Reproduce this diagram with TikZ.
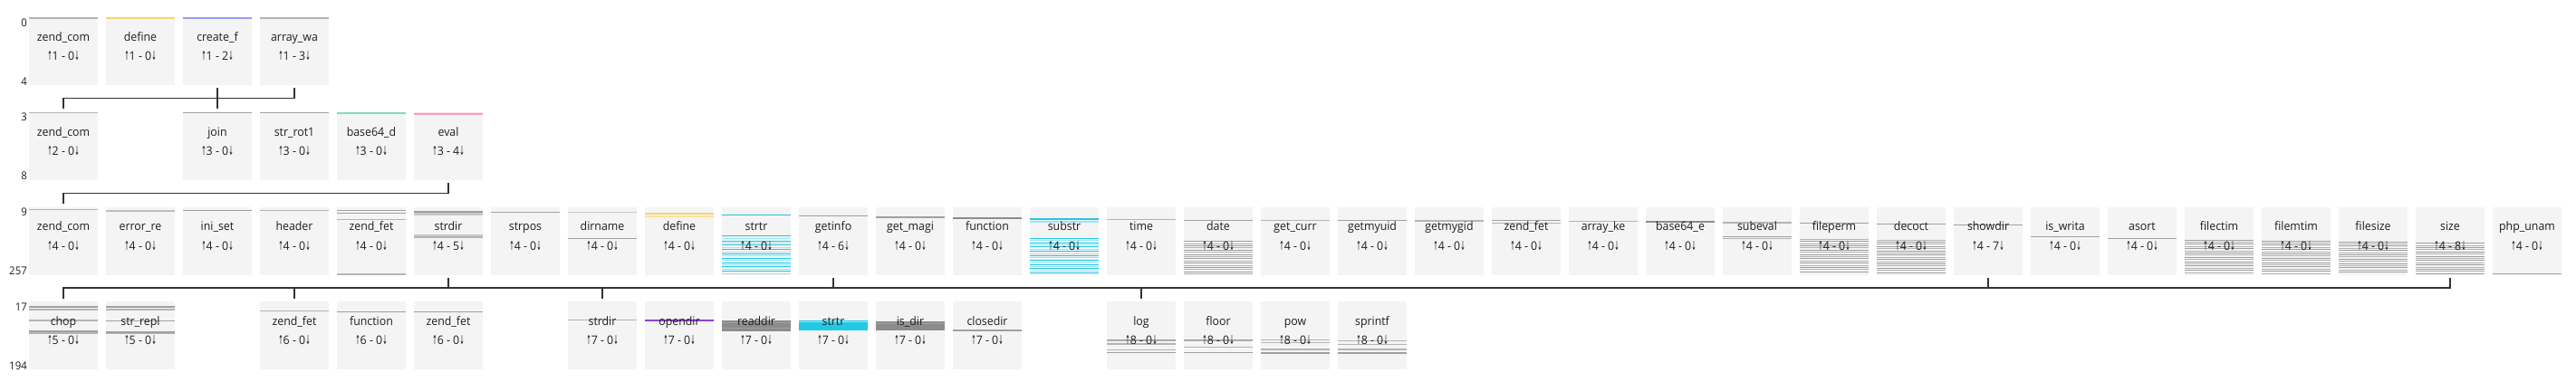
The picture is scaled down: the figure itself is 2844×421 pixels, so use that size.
\documentclass[tikz,border=0pt]{standalone}
\usepackage{fontspec}
\setmainfont{Open Sans}[FakeStretch=0.95]
\newfontfamily\arrowfont{DejaVu Sans}
\usepackage{graphicx}
\usepackage{tikz}

\definecolor{boxfill}{HTML}{F4F4F4}
\definecolor{txt}{HTML}{1E1E1E}
\definecolor{linkc}{HTML}{333333}
\definecolor{graya}{HTML}{B4B4B4}
\definecolor{grayb}{HTML}{C8C8C8}
\definecolor{grayc}{HTML}{A0A0A0}
\definecolor{grayd}{HTML}{8C8C8C}
\definecolor{yellowa}{HTML}{F7D56E}
\definecolor{yellowb}{HTML}{FBE39A}
\definecolor{purplea}{HTML}{9B9BEA}
\definecolor{purpled}{HTML}{8A46C8}
\definecolor{teala}{HTML}{7DDCC2}
\definecolor{pinka}{HTML}{F6A3BA}
\definecolor{pinkl}{HTML}{FBDCE5}
\definecolor{cyana}{HTML}{20C9E4}
\definecolor{cyanl}{HTML}{9DE6F3}

\newcommand{\ua}{{\arrowfont\scalebox{.5}[1.05]{↑}}}
\newcommand{\da}{{\arrowfont\scalebox{.5}[1.05]{↓}}}
\newcommand{\cnt}[2]{\ua#1 - #2\da}

\tikzset{
	fnbox/.style={rectangle, fill=boxfill, inner sep=0pt, outer sep=0pt,
		minimum width=76pt, minimum height=75pt, anchor=north west},
	fnname/.style={anchor=base, inner sep=0pt, font=\fontsize{13}{15}\selectfont, text=txt},
	fncount/.style={anchor=base, inner sep=0pt, font=\fontsize{13}{15}\selectfont, text=txt},
	rowlbl/.style={anchor=base east, inner sep=0pt, font=\fontsize{12}{14}\selectfont, text=txt},
	link/.style={draw=linkc, line width=1.5pt},
}

% box: name, column, row, label, counts, stripes
\newcommand{\func}[6]{%
	\node[fnbox] (#1) at ({32+85*#2},{19+104.8*#3}) {};
	\def\cur{#1}%
	#6%
	\node[fnname] (#1n) at ([yshift=-26.2pt]#1.north) {#4};
	\node[fncount] (#1c) at ([yshift=-47.5pt]#1.north) {#5};
}
\newcommand{\stripes}[1]{%
	\foreach \yo/\scol/\swid in {#1}
	\draw[\scol, line width=\swid pt] ([yshift=-\yo pt]\cur.north west) -- ([yshift=-\yo pt]\cur.north east);}
\newcommand{\hatch}[3]{%
	\foreach \k in {0,...,20}{%
		\pgfmathsetmacro\yo{#1+2.4*\k}%
		\ifdim\yo pt<74pt
		\ifodd\k\relax \def\hc{#3}\else \def\hc{#2}\fi
		\draw[\hc, line width=1pt] ([yshift=-\yo pt]\cur.north west) -- ([yshift=-\yo pt]\cur.north east);
		\fi}}

\begin{document}
\begin{tikzpicture}[x=1pt, y=-1pt]
	
	\useasboundingbox (0,0) rectangle (2844,421);
	
	% row labels
	\node[rowlbl] (la) at (30,29) {0};
	\node[rowlbl] (lb) at (30,94) {4};
	\node[rowlbl] (lc) at (30,133.8) {3};
	\node[rowlbl] (ld) at (30,198.8) {8};
	\node[rowlbl] (le) at (30,238.6) {9};
	\node[rowlbl] (lf) at (30,303.6) {257};
	\node[rowlbl] (lg) at (30,343.4) {17};
	\node[rowlbl] (lh) at (30,408.4) {194};
	
	% row 0
	\func{r0c0}{0}{0}{zend\_com}{\cnt{1}{0}}{\stripes{0.75/graya/1.5}}
	\func{r0c1}{1}{0}{define}{\cnt{1}{0}}{\stripes{0.75/yellowa/1.5}}
	\func{r0c2}{2}{0}{create\_f}{\cnt{1}{2}}{\stripes{0.75/purplea/1.5}}
	\func{r0c3}{3}{0}{array\_wa}{\cnt{1}{3}}{\stripes{1/graya/2}}
	
	% row 1
	\func{r1c0}{0}{1}{zend\_com}{\cnt{2}{0}}{\stripes{0.75/graya/1.5}}
	\func{r1c2}{2}{1}{join}{\cnt{3}{0}}{\stripes{0.75/grayc/1.5}}
	\func{r1c3}{3}{1}{str\_rot1}{\cnt{3}{0}}{\stripes{0.75/grayc/1.5}}
	\func{r1c4}{4}{1}{base64\_d}{\cnt{3}{0}}{\stripes{1.25/teala/2.5}}
	\func{r1c5}{5}{1}{eval}{\cnt{3}{4}}{\stripes{0.5/pinkl/1, 2/pinka/2}}
	
	% row 2
	\func{r2c0}{0}{2}{zend\_com}{\cnt{4}{0}}{\stripes{3/graya/1.5}}
	\func{r2c1}{1}{2}{error\_re}{\cnt{4}{0}}{\stripes{3.5/grayb/1, 4.5/graya/1.2}}
	\func{r2c2}{2}{2}{ini\_set}{\cnt{4}{0}}{\stripes{4/grayc/1.5}}
	\func{r2c3}{3}{2}{header}{\cnt{4}{0}}{\stripes{4/graya/1.5}}
	\func{r2c4}{4}{2}{zend\_fet}{\cnt{4}{0}}{\stripes{4/grayc/1.2, 7/grayc/1.5, 13.5/graya/1.2, 74.2/graya/1.5}}
	\func{r2c5}{5}{2}{strdir}{\cnt{4}{5}}{\stripes{5/grayc/1.8, 8/grayb/2.5, 31.5/grayb/1.5, 33.5/graya/1.5}}
	\func{r2c6}{6}{2}{strpos}{\cnt{4}{0}}{\stripes{6/grayc/1.2}}
	\func{r2c7}{7}{2}{dirname}{\cnt{4}{0}}{\stripes{5.5/grayb/1.2, 35/grayc/1.5}}
	\func{r2c8}{8}{2}{define}{\cnt{4}{0}}{\stripes{7/yellowa/1.8, 10.5/yellowb/1.8}}
	\func{r2c9}{9}{2}{strtr}{\cnt{4}{0}}{\stripes{8.7/cyana/1.5, 32/cyana/1.5}\hatch{35}{cyanl}{cyana}}
	\func{r2c10}{10}{2}{getinfo}{\cnt{4}{6}}{\stripes{9.7/grayc/1.5}}
	\func{r2c11}{11}{2}{get\_magi}{\cnt{4}{0}}{\stripes{11.4/grayc/1.5}}
	\func{r2c12}{12}{2}{function}{\cnt{4}{0}}{\stripes{12/grayd/2}}
	\func{r2c13}{13}{2}{substr}{\cnt{4}{0}}{\stripes{13.6/cyana/2, 16.4/cyanl/1.5}\hatch{34.7}{cyana}{cyanl}}
	\func{r2c14}{14}{2}{time}{\cnt{4}{0}}{\stripes{13.7/graya/1.5}}
	\func{r2c15}{15}{2}{date}{\cnt{4}{0}}{\stripes{14.7/grayc/1.2}\hatch{38}{grayc}{graya}}
	\func{r2c16}{16}{2}{get\_curr}{\cnt{4}{0}}{\stripes{15/graya/1.5}}
	\func{r2c17}{17}{2}{getmyuid}{\cnt{4}{0}}{\stripes{15/grayc/1.2}}
	\func{r2c18}{18}{2}{getmygid}{\cnt{4}{0}}{\stripes{15.5/graya/2}}
	\func{r2c19}{19}{2}{zend\_fet}{\cnt{4}{0}}{\stripes{15/grayc/1.2, 18/graya/1.5}}
	\func{r2c20}{20}{2}{array\_ke}{\cnt{4}{0}}{\stripes{15.7/graya/1.5}}
	\func{r2c21}{21}{2}{base64\_e}{\cnt{4}{0}}{\stripes{16.5/grayd/2.5}}
	\func{r2c22}{22}{2}{subeval}{\cnt{4}{0}}{\stripes{17.4/graya/1.5, 33/grayc/1.5, 35/graya/1.5}}
	\func{r2c23}{23}{2}{fileperm}{\cnt{4}{0}}{\stripes{18/grayc/1.2}\hatch{35.7}{graya}{grayc}}
	\func{r2c24}{24}{2}{decoct}{\cnt{4}{0}}{\stripes{18.7/grayc/1.2}\hatch{36.4}{graya}{grayc}}
	\func{r2c25}{25}{2}{showdir}{\cnt{4}{7}}{\stripes{19.7/grayc/1.2}}
	\func{r2c26}{26}{2}{is\_writa}{\cnt{4}{0}}{\stripes{33/grayc/1.5}}
	\func{r2c27}{27}{2}{asort}{\cnt{4}{0}}{\stripes{34.7/grayc/1.5}}
	\func{r2c28}{28}{2}{filectim}{\cnt{4}{0}}{\hatch{36.4}{grayc}{graya}}
	\func{r2c29}{29}{2}{filemtim}{\cnt{4}{0}}{\hatch{37.4}{grayc}{graya}}
	\func{r2c30}{30}{2}{filesize}{\cnt{4}{0}}{\hatch{38.5}{grayc}{graya}}
	\func{r2c31}{31}{2}{size}{\cnt{4}{8}}{\hatch{40}{grayc}{graya}}
	\func{r2c32}{32}{2}{php\_unam}{\cnt{4}{0}}{\stripes{74/grayc/1.5}}
	
	% row 3
	\func{r3c0}{0}{3}{chop}{\cnt{5}{0}}{\stripes{5.5/grayc/2, 9/graya/2, 20.6/graya/1.5, 32.5/grayc/1.2, 34.5/graya/1.2}}
	\func{r3c1}{1}{3}{str\_repl}{\cnt{5}{0}}{\stripes{5.5/grayc/2, 9/graya/2, 21/grayc/1.2, 33.5/grayc/1.5, 35/graya/1}}
	\func{r3c3}{3}{3}{zend\_fet}{\cnt{6}{0}}{\stripes{10/graya/1.5}}
	\func{r3c4}{4}{3}{function}{\cnt{6}{0}}{\stripes{11/grayc/1.2}}
	\func{r3c5}{5}{3}{zend\_fet}{\cnt{6}{0}}{\stripes{11/grayc/1.2}}
	\func{r3c7}{7}{3}{strdir}{\cnt{7}{0}}{\stripes{20/graya/1.2}}
	\func{r3c8}{8}{3}{opendir}{\cnt{7}{0}}{\stripes{20.6/purpled/1.2}}
	\func{r3c9}{9}{3}{readdir}{\cnt{7}{0}}{\stripes{26.4/grayd/11.7, 23/grayc/1, 29/grayc/1}}
	\func{r3c10}{10}{3}{strtr}{\cnt{7}{0}}{\stripes{26/cyana/11, 22/cyanl/1}}
	\func{r3c11}{11}{3}{is\_dir}{\cnt{7}{0}}{\stripes{26.5/grayd/10, 24/grayc/1}}
	\func{r3c12}{12}{3}{closedir}{\cnt{7}{0}}{\stripes{31.6/grayc/1.2}}
	\func{r3c14}{14}{3}{log}{\cnt{8}{0}}{\stripes{41.6/grayc/1, 43.3/graya/1, 46.6/graya/1.2, 53.3/graya/1, 56/grayc/1.2}}
	\func{r3c15}{15}{3}{floor}{\cnt{8}{0}}{\stripes{41.6/grayc/1, 43.3/graya/1, 49.9/graya/1.2, 56/grayc/1.2}}
	\func{r3c16}{16}{3}{pow}{\cnt{8}{0}}{\stripes{41.6/graya/1, 45/graya/1, 52.6/graya/1.2, 56.6/grayc/1.2}}
	\func{r3c17}{17}{3}{sprintf}{\cnt{8}{0}}{\stripes{42.6/graya/1, 46.6/graya/1, 52.6/graya/1.2, 56.6/grayc/1.2}}
	
	% links
	\draw[link] ([yshift=-3pt]r0c2.south) -- ++(0,11.5) -| ([yshift=3.5pt]r1c0.north);
	\draw[link] ([yshift=-3pt]r0c3.south) -- ++(0,11.5) -| ([yshift=3.5pt]r1c2.north);
	\draw[link] ([yshift=-3pt]r1c5.south) -- ++(0,11.5) -| ([yshift=3.5pt]r2c0.north);
	\draw[link] ([yshift=-3pt]r2c5.south) -- ++(0,11.5) -| ([yshift=3.5pt]r3c0.north);
	\draw[link] ([yshift=-3pt]r2c10.south) -- ++(0,11.5) -| ([yshift=3.5pt]r3c3.north);
	\draw[link] ([yshift=-3pt]r2c25.south) -- ++(0,11.5) -| ([yshift=3.5pt]r3c7.north);
	\draw[link] ([yshift=-3pt]r2c31.south) -- ++(0,11.5) -| ([yshift=3.5pt]r3c14.north);
	
\end{tikzpicture}
\end{document}
